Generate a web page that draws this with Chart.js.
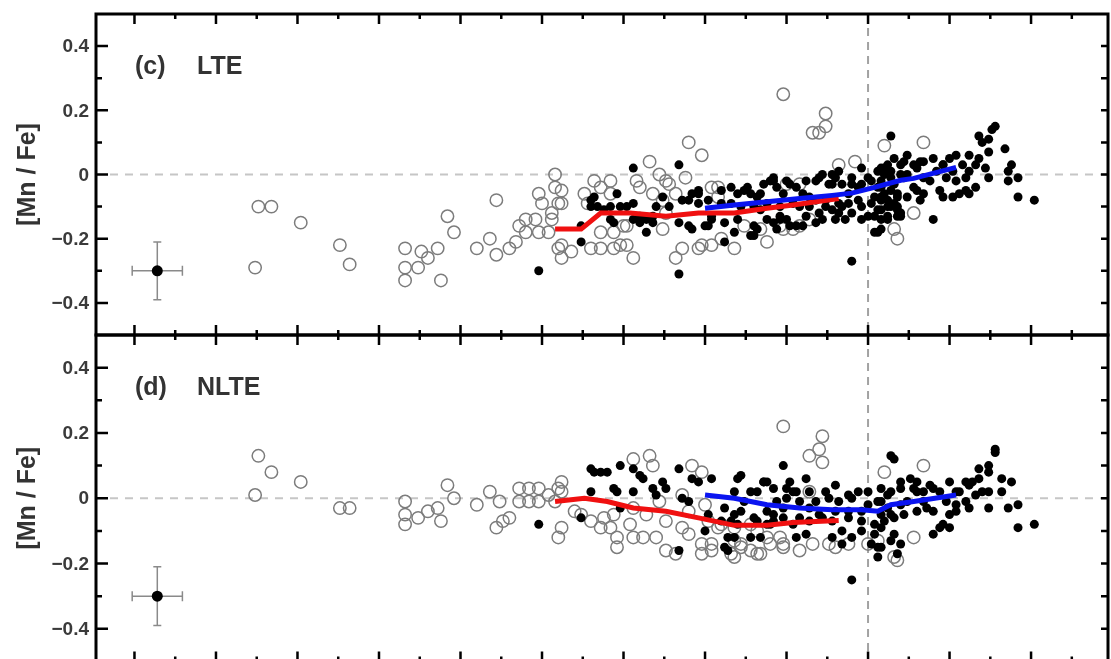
<!DOCTYPE html>
<html>
<head>
<meta charset="utf-8">
<script src="https://cdn.jsdelivr.net/npm/chart.js@4.4.1/dist/chart.umd.min.js"></script>
<style>
  html, body { margin: 0; padding: 0; background: #fff; overflow: hidden; }
  #wrap { position: relative; width: 1111px; height: 659px; overflow: hidden; }
  canvas { position: absolute; left: 0; }
  #chartLTE { top: 0; }
  #chartNLTE { top: 321px; }
</style>
</head>
<body>
<div id="wrap">
  <canvas id="chartLTE" width="1111" height="340"></canvas>
  <canvas id="chartNLTE" width="1111" height="345"></canvas>
</div>
<script>
// ---------------- data: [Fe/H], [Mn/Fe] ----------------

const xRange = [-2.368, 0.736];
const yRange = [-0.5, 0.5];
const xMajorTicks = [-2.25, -2, -1.75, -1.5, -1.25, -1, -0.75, -0.5, -0.25, 0, 0.25, 0.5];
const xMinorTicks = [-2.125, -1.875, -1.625, -1.375, -1.125, -0.875, -0.625, -0.375, -0.125, 0.125, 0.375, 0.625];
const yMajorTicks = [-0.4, -0.2, 0, 0.2, 0.4];
const yMinorTicks = [-0.3, -0.1, 0.1, 0.3];
const yTickLabels = ["\u22120.4", "\u22120.2", "0", "0.2", "0.4"];

// typical error bar
const errPoint = [-2.18, -0.30];
const errSize = [0.077, 0.09];

// (c) LTE
const lteOpen = [
  [-1.87,-0.10],[-1.83,-0.10],[-1.88,-0.29],[-1.74,-0.15],[-1.62,-0.22],[-1.59,-0.28],
  [-1.42,-0.23],[-1.42,-0.29],[-1.42,-0.33],[-1.38,-0.29],[-1.37,-0.24],[-1.35,-0.26],[-1.32,-0.23],[-1.31,-0.33],[-1.29,-0.13],[-1.27,-0.18],
  [-1.20,-0.23],[-1.16,-0.20],[-1.14,-0.25],[-1.14,-0.08],[-1.10,-0.23],[-1.08,-0.21],[-1.07,-0.16],[-1.05,-0.14],[-1.05,-0.18],[-1.02,-0.14],[-1.01,-0.18],[-1.01,-0.06],[-1.00,-0.09],
  [-0.96,0.00],[-0.96,-0.04],[-0.94,-0.05],[-0.95,-0.09],[-0.97,-0.12],[-0.94,-0.09],[-0.97,-0.14],[-0.98,-0.18],[-0.95,-0.23],[-0.94,-0.26],[-0.91,-0.24],
  [-0.87,-0.06],[-0.86,-0.09],[-0.84,-0.02],[-0.82,-0.04],[-0.82,-0.18],[-0.85,-0.23],[-0.82,-0.23],[-0.79,-0.06],[-0.78,-0.23],[-0.76,-0.22],[-0.78,-0.18],[-0.74,-0.22],[-0.72,-0.26],[-0.74,-0.16],[-0.71,-0.02],[-0.70,-0.04],
  [-0.67,0.04],[-0.64,0.00],[-0.62,-0.02],[-0.61,-0.03],[-0.63,-0.08],[-0.62,-0.12],[-0.63,-0.17],[-0.59,-0.06],[-0.56,-0.01],[-0.59,-0.26],[-0.57,-0.23],[-0.55,0.10],[-0.51,0.06],[-0.52,-0.23],[-0.48,-0.22],[-0.46,-0.04],[-0.26,0.25],
  [-0.48,-0.04],[-0.46,-0.07],[-0.45,-0.20],[-0.51,-0.22],[-0.41,-0.23],[-0.38,-0.16],[-0.31,-0.21],[-0.27,-0.16],[-0.23,-0.17],[-0.18,-0.14],[-0.25,-0.03],[-0.21,-0.03],
  [-0.13,0.19],[-0.13,0.15],[-0.17,0.13],[-0.15,0.13],[-0.09,0.03],[-0.04,0.04],[0.05,0.09],[0.17,0.10],[0.14,-0.12],[0.08,-0.17],[0.09,-0.20],[-0.33,-0.17],[-0.26,-0.17],[-0.21,-0.16],
  [-0.79,-0.02],[-0.66,-0.06],[-0.94,-0.22],[-0.75,-0.16]
];
const lteFilled = [
  [-1.01,-0.30],[-0.88,-0.21],[-0.72,0.02],[-0.58,0.03],[-0.58,-0.31],[-0.85,-0.08],[-0.84,-0.07],[-0.83,-0.10],[-0.85,-0.10],[-0.81,-0.11],
  [-0.79,-0.10],[-0.77,-0.06],[-0.76,-0.10],[-0.74,-0.10],[-0.72,-0.09],[-0.79,-0.14],[-0.78,-0.15],[-0.72,-0.14],[-0.70,-0.13],[-0.70,-0.15],
  [-0.68,-0.14],[-0.66,-0.15],[-0.68,-0.18],[-0.65,-0.10],[-0.63,-0.07],[-0.61,-0.10],[-0.58,-0.15],[-0.57,-0.08],[-0.55,-0.08],[-0.54,-0.06],
  [-0.52,-0.09],[-0.55,-0.16],[-0.54,-0.17],[-0.49,-0.16],[-0.52,-0.05],[-0.88,-0.16],[-0.66,-0.13],
  [-0.52,-0.06],[-0.49,-0.08],[-0.45,-0.05],[-0.42,-0.04],[-0.40,-0.06],[-0.37,-0.04],[-0.36,-0.06],[-0.34,-0.07],[-0.32,-0.03],[-0.29,-0.02],
  [-0.28,-0.04],[-0.26,-0.06],[-0.24,-0.03],[-0.22,-0.04],[-0.20,-0.06],[-0.18,-0.07],[-0.16,-0.02],[-0.14,0.00],[-0.12,-0.03],[-0.10,-0.01],
  [-0.08,-0.03],[-0.06,-0.06],[-0.03,-0.04],[-0.02,-0.03],[-0.02,0.02],[0.03,0.01],[0.05,0.00],[0.07,0.12],[0.03,-0.04],[0.05,-0.06],
  [0.08,-0.03],[0.09,-0.06],[-0.50,-0.16],[-0.48,-0.14],[-0.44,-0.15],[-0.41,-0.18],[-0.44,-0.21],[-0.36,-0.19],[-0.34,-0.17],[-0.31,-0.14],
  [-0.29,-0.15],[-0.27,-0.13],[-0.25,-0.14],[-0.22,-0.16],[-0.19,-0.13],[-0.16,-0.15],[-0.15,-0.12],[-0.13,-0.10],[-0.11,-0.11],[-0.10,-0.14],
  [-0.07,-0.14],[-0.05,-0.12],[-0.02,-0.10],[-0.02,-0.14],[0.01,-0.09],[0.03,-0.11],[0.06,-0.10],[0.06,-0.14],[0.09,-0.10],[0.02,-0.18],
  [-0.05,-0.27],[-0.39,-0.10],[-0.33,-0.11],[-0.16,-0.08],[-0.09,-0.09],[-0.21,-0.10],
  [0.04,0.02],[0.06,0.03],[0.08,0.05],[0.10,0.03],[0.12,0.06],[0.14,0.03],[0.15,0.02],[0.17,-0.01],[0.20,0.05],[0.23,0.03],
  [0.25,0.05],[0.27,0.06],[0.29,0.03],[0.31,0.06],[0.34,0.12],[0.35,0.10],[0.37,0.11],[0.39,0.15],[0.38,0.14],[0.37,0.07],
  [0.34,0.05],[0.36,0.02],[0.37,-0.01],[0.42,0.08],[0.44,0.03],[0.43,0.01],[0.43,-0.02],[0.46,-0.01],[0.46,-0.07],[0.51,-0.08],
  [0.31,-0.06],[0.28,-0.06],[0.26,-0.07],[0.23,-0.07],[0.20,-0.14],[0.04,-0.04],[0.07,-0.05],[0.09,-0.07],[0.06,-0.08],[0.09,-0.11],
  [0.10,-0.13],[0.06,-0.13],[0.04,-0.11],[0.15,-0.05],[0.19,-0.02],[0.24,-0.01],[0.27,-0.02],[0.30,-0.01],[0.11,-0.01],[0.04,-0.17],
  [0.14,-0.04],[0.03,-0.18],[0.10,-0.12],[0.02,-0.13],[-0.08,-0.10],[-0.27,-0.14],[-0.35,-0.19],[-0.30,-0.02],[-0.11,-0.03],[-0.05,-0.03],
  [0.05,0.02],[0.11,0.04],[0.16,0.04],[0.23,0.03],[0.33,0.03],
  [-0.48,-0.13],[-0.38,-0.05],[-0.33,-0.06],[-0.29,-0.01],[-0.25,-0.02],[-0.19,-0.02],[-0.15,-0.01],[-0.11,0.00],[-0.09,0.01],[-0.05,-0.01],
  [0.00,-0.01],[0.01,-0.02],[0.04,-0.02],[0.07,-0.01],[0.02,-0.07],[0.04,-0.08],[-0.03,-0.08],[-0.06,-0.09],[-0.13,-0.08],[-0.18,-0.10],
  [-0.23,-0.09],[-0.27,-0.10],[-0.31,-0.09],[-0.35,-0.10],[-0.42,-0.09],[-0.45,-0.09],[-0.40,-0.14],[-0.35,-0.16],[-0.28,-0.17],[-0.24,-0.16],
  [-0.20,-0.16],[-0.14,-0.14],[-0.09,-0.12],[0.00,-0.13],[0.04,-0.14],[0.09,-0.13],
  [0.07,0.01],[0.10,0.00],[0.12,0.00],[0.17,0.04],[0.21,0.01],[0.26,0.01],[0.31,0.01],[0.04,-0.07],[0.08,-0.09],[0.12,-0.07],
  [0.17,-0.06],[0.22,-0.05],[0.30,-0.05],[0.33,-0.04],[0.07,-0.10],[0.16,-0.08]
];
const lteThick = [[-0.96,-0.17],[-0.88,-0.17],[-0.82,-0.12],[-0.73,-0.12],[-0.62,-0.13],[-0.52,-0.12],[-0.41,-0.12],[-0.31,-0.105],[-0.23,-0.095],[-0.16,-0.085],[-0.09,-0.075]];
const lteThin = [[-0.50,-0.105],[-0.41,-0.095],[-0.31,-0.085],[-0.21,-0.075],[-0.11,-0.065],[-0.05,-0.058],[0.02,-0.04],[0.10,-0.018],[0.14,-0.012],[0.27,0.022]];

// (d) NLTE
const nlteOpen = [
  [-1.87,0.13],[-1.83,0.08],[-1.88,0.01],[-1.74,0.05],[-1.62,-0.03],[-1.59,-0.03],
  [-1.42,-0.01],[-1.42,-0.05],[-1.42,-0.08],[-1.38,-0.06],[-1.35,-0.04],[-1.32,-0.03],[-1.31,-0.07],[-1.29,0.04],[-1.27,0.00],
  [-1.20,-0.02],[-1.16,0.02],[-1.13,-0.01],[-1.10,-0.06],[-1.12,-0.07],[-1.14,-0.09],[-1.07,0.03],[-1.04,0.03],[-1.01,0.03],[-1.07,-0.01],
  [-1.04,-0.01],[-1.01,-0.01],[-0.98,0.01],[-0.95,0.03],[-0.94,0.05],[-0.94,0.02],[-0.96,-0.01],[-0.94,-0.09],[-0.95,-0.12],[-0.90,-0.04],
  [-0.88,-0.05],[-0.85,-0.07],[-0.82,-0.09],[-0.81,-0.06],[-0.79,-0.09],[-0.77,-0.12],[-0.77,-0.15],[-0.78,-0.05],[-0.73,-0.08],[-0.72,-0.12],
  [-0.69,-0.12],[-0.67,0.13],[-0.66,0.10],[-0.72,0.12],[-0.65,-0.12],[-0.62,-0.16],[-0.59,-0.17],[-0.55,-0.11],[-0.51,-0.17],[-0.48,-0.14],
  [-0.42,-0.17],[-0.39,-0.15],[-0.34,-0.17],[-0.26,0.22],[-0.54,0.10],[-0.51,0.08],[-0.72,-0.03],[-0.68,-0.05],[-0.62,-0.07],[-0.57,-0.09],
  [-0.64,-0.01],[-0.57,0.01],[-0.55,-0.04],[-0.45,-0.08],[-0.41,-0.09],[-0.36,-0.08],[-0.41,-0.13],[-0.31,-0.12],[-0.26,-0.14],
  [-0.14,0.19],[-0.15,0.15],[-0.18,0.13],[-0.14,0.11],[-0.50,-0.02],[-0.49,-0.07],[-0.51,-0.14],[-0.48,-0.16],[-0.41,-0.18],[-0.36,-0.16],
  [-0.33,-0.17],[-0.39,-0.14],[-0.30,-0.14],[-0.26,-0.15],[-0.21,-0.16],[-0.17,-0.14],[-0.10,-0.15],[-0.18,0.02],[-0.27,-0.12],[0.05,0.08],
  [0.17,0.10],[0.08,-0.18],[0.09,-0.19],[-0.46,-0.09],[-0.34,-0.10],[-0.12,-0.14],[-0.06,-0.14],[0.00,-0.14],[0.03,-0.13],[0.14,-0.12]
];
const nlteFilled = [
  [-1.01,-0.08],[-0.88,-0.06],[-0.85,0.09],[-0.84,0.08],[-0.80,0.08],[-0.76,0.10],[-0.72,0.09],[-0.69,0.06],[-0.78,0.03],[-0.77,0.02],
  [-0.72,0.02],[-0.66,0.03],[-0.63,0.05],[-0.62,0.03],[-0.65,0.01],[-0.58,0.09],[-0.54,0.06],[-0.52,0.05],[-0.57,0.00],[-0.55,-0.01],
  [-0.85,0.02],[-0.76,-0.03],[-0.58,-0.16],[-0.49,-0.05],[-0.82,0.08],[-0.70,0.07],[-0.48,0.06],[-0.40,0.06],[-0.36,0.02],[-0.32,0.05],
  [-0.26,0.10],[-0.24,0.05],[-0.50,-0.10],[-0.44,-0.03],[-0.41,-0.05],[-0.43,-0.16],[-0.36,-0.12],[-0.34,-0.07],[-0.30,-0.08],[-0.29,-0.05],
  [-0.22,-0.12],[-0.23,0.02],[-0.38,-0.01],[-0.39,0.07],[-0.32,0.05],[-0.29,0.03],[-0.19,0.06],[-0.10,0.04],[-0.39,-0.04],[-0.31,-0.04],
  [-0.25,0.00],[-0.21,-0.01],[-0.16,-0.01],[-0.12,0.00],[-0.06,0.01],[-0.03,0.02],[0.00,0.02],[0.04,0.03],[0.07,0.02],[0.07,0.13],
  [-0.06,-0.04],[-0.02,-0.04],[-0.11,-0.07],[-0.08,-0.10],[-0.05,-0.12],[0.02,-0.08],[0.05,-0.07],[-0.42,-0.07],[-0.43,-0.12],[-0.44,-0.15],
  [-0.23,-0.08],[-0.19,-0.11],[0.01,-0.14],[0.03,-0.15],[0.03,-0.18],[-0.05,-0.25],[0.06,-0.03],[-0.18,-0.07],[-0.26,-0.06],[-0.31,-0.08],
  [-0.15,-0.05],[0.08,0.12],[0.10,0.05],[0.14,0.03],[0.15,0.05],[0.17,0.02],[0.20,0.03],[0.25,0.05],[0.31,0.04],[0.32,0.05],
  [0.34,0.09],[0.37,0.10],[0.39,0.15],[0.39,0.14],[0.35,0.02],[0.37,0.02],[0.41,0.06],[0.44,0.05],[0.41,0.02],[0.37,-0.03],
  [0.43,-0.03],[0.46,-0.02],[0.46,-0.09],[0.51,-0.08],[0.30,-0.01],[0.27,-0.02],[0.25,-0.05],[0.23,-0.08],[0.22,-0.09],[0.20,-0.11],
  [0.10,-0.02],[0.12,-0.01],[0.17,-0.01],[0.08,-0.06],[0.08,-0.11],[0.10,-0.14],[0.09,-0.17],[0.04,-0.15],[0.18,-0.03],[0.24,-0.01],
  [0.28,0.02],[0.33,0.01],[0.31,-0.03],[0.04,-0.05],
  [-0.41,0.02],[-0.34,0.02],[-0.28,-0.01],[-0.18,0.02],[-0.13,0.02],[-0.09,-0.01],[-0.05,0.00],[0.00,-0.02],[0.03,-0.01],[0.06,0.01],
  [-0.06,-0.06],[-0.02,-0.07],[-0.10,-0.04],[-0.14,-0.06],[-0.26,-0.03],[-0.21,-0.06],[-0.29,-0.07],[-0.35,-0.06],[-0.40,-0.08],[-0.45,-0.07],
  [-0.41,-0.12],[-0.33,-0.12],[-0.31,0.05],[-0.25,0.03],[-0.22,0.02],[-0.18,-0.03],[0.02,-0.11],[-0.02,-0.10],[-0.08,-0.14],[-0.11,-0.12],
  [0.10,0.03],[0.13,0.06],[0.15,0.02],[0.19,0.04],[0.22,0.02],[0.27,0.02],[0.30,0.05],[0.04,-0.01],[0.07,-0.05],[0.11,-0.05],
  [0.15,-0.04],[0.20,-0.04],[0.25,-0.09],[0.27,-0.04],[0.04,-0.09],[0.07,-0.13],[0.34,0.06],[0.37,0.08]
];
const nlteThick = [[-0.96,-0.01],[-0.87,0.00],[-0.80,-0.01],[-0.72,-0.03],[-0.62,-0.04],[-0.52,-0.06],[-0.41,-0.083],[-0.31,-0.083],[-0.23,-0.074],[-0.09,-0.068]];
const nlteThin = [[-0.50,0.01],[-0.41,0.00],[-0.31,-0.02],[-0.21,-0.03],[-0.11,-0.035],[-0.02,-0.035],[0.03,-0.04],[0.07,-0.02],[0.14,-0.01],[0.27,0.01]];

// ---------------- plugin: nollinjer, felstapel, ram, ticks inåt, etiketter ----------------

const xy = (arr) => arr.map((p) => ({ x: p[0], y: p[1] }));
const fontFamily = "'Liberation Sans', Arial, sans-serif";

const panelDecor = {
  id: "panelDecor",
  beforeDatasetsDraw(chart, args, opts) {
    const { ctx, chartArea: a, scales } = chart;
    const x = scales.x, y = scales.y;
    ctx.save();
    ctx.beginPath();
    ctx.rect(a.left, a.top, a.right - a.left, a.bottom - a.top);
    ctx.clip();
    // nollinjer
    const y0 = y.getPixelForValue(0);
    ctx.setLineDash([8, 7]);
    ctx.lineWidth = 2;
    ctx.strokeStyle = "#c6c6c6";
    ctx.beginPath();
    ctx.moveTo(a.left + 14, y0);
    ctx.lineTo(a.right, y0);
    ctx.stroke();
    const x0 = x.getPixelForValue(0);
    ctx.setLineDash([8, 6]);
    ctx.strokeStyle = "#a2a2a2";
    ctx.beginPath();
    ctx.moveTo(x0, a.top);
    ctx.lineTo(x0, a.bottom);
    ctx.stroke();
    // felstapel
    ctx.setLineDash([]);
    ctx.strokeStyle = "#8a8a8a";
    ctx.lineWidth = 1.5;
    const ex = x.getPixelForValue(errPoint[0]);
    const ey = y.getPixelForValue(errPoint[1]);
    const xl = x.getPixelForValue(errPoint[0] - errSize[0]);
    const xr = x.getPixelForValue(errPoint[0] + errSize[0]);
    const yt = y.getPixelForValue(errPoint[1] + errSize[1]);
    const yb = y.getPixelForValue(errPoint[1] - errSize[1]);
    ctx.beginPath();
    ctx.moveTo(xl, ey); ctx.lineTo(xr, ey);
    ctx.moveTo(ex, yt); ctx.lineTo(ex, yb);
    ctx.moveTo(xl, ey - 5); ctx.lineTo(xl, ey + 5);
    ctx.moveTo(xr, ey - 5); ctx.lineTo(xr, ey + 5);
    ctx.moveTo(ex - 4, yt); ctx.lineTo(ex + 4, yt);
    ctx.moveTo(ex - 4, yb); ctx.lineTo(ex + 4, yb);
    ctx.stroke();
    ctx.restore();
  },
  afterDatasetsDraw(chart, args, opts) {
    const { ctx, chartArea: a, scales } = chart;
    const x = scales.x, y = scales.y;
    ctx.save();
    ctx.strokeStyle = "#000";
    ctx.lineWidth = 3;
    ctx.strokeRect(a.left, a.top, a.right - a.left, a.bottom - a.top);
    ctx.lineWidth = 2.5;
    ctx.beginPath();
    const xTick = (v, len) => {
      const px = x.getPixelForValue(v);
      if (px <= a.left || px >= a.right) return;
      ctx.moveTo(px, a.top); ctx.lineTo(px, a.top + len);
      ctx.moveTo(px, a.bottom); ctx.lineTo(px, a.bottom - len);
    };
    xMajorTicks.forEach((v) => xTick(v, 10));
    xMinorTicks.forEach((v) => xTick(v, 5));
    yMajorTicks.forEach((v) => {
      const py = y.getPixelForValue(v);
      ctx.moveTo(a.left, py); ctx.lineTo(a.left + 12, py);
      ctx.moveTo(a.right, py); ctx.lineTo(a.right - 7, py);
    });
    yMinorTicks.forEach((v) => {
      const py = y.getPixelForValue(v);
      ctx.moveTo(a.left, py); ctx.lineTo(a.left + 6, py);
      ctx.moveTo(a.right, py); ctx.lineTo(a.right - 7, py);
    });
    ctx.stroke();
    // y-etiketter
    ctx.fillStyle = "#3a3a3a";
    ctx.font = "bold 19px " + fontFamily;
    ctx.textAlign = "right";
    ctx.textBaseline = "middle";
    yMajorTicks.forEach((v, i) => {
      ctx.fillText(yTickLabels[i], a.left - 7, y.getPixelForValue(v) + 1);
    });
    // panelrubrik
    ctx.fillStyle = "#333";
    ctx.font = "bold 25px " + fontFamily;
    ctx.textAlign = "left";
    ctx.textBaseline = "alphabetic";
    ctx.fillText(opts.tag, a.left + 39, a.top + 60);
    ctx.fillText(opts.name, a.left + 101, a.top + 60);
    ctx.restore();
  },
};

function makeConfig(openPts, filledPts, thickPts, thinPts, tag, name, padTop, padBottom) {
  return {
    type: "scatter",
    data: {
      datasets: [
        { data: xy(thinPts), showLine: true, borderColor: "#0a14f0", borderWidth: 5, pointRadius: 0, tension: 0 },
        { data: xy(thickPts), showLine: true, borderColor: "#f01010", borderWidth: 5, pointRadius: 0, tension: 0 },
        { data: xy(filledPts), pointRadius: 4.5, backgroundColor: "#000", borderWidth: 0 },
        { data: xy(openPts), pointRadius: 6.2, backgroundColor: "rgba(0,0,0,0)", borderColor: "#7c7c7c", borderWidth: 1.5 },
        { data: xy([errPoint]), pointRadius: 5.5, backgroundColor: "#000", borderWidth: 0 },
      ],
    },
    options: {
      responsive: false,
      animation: false,
      events: [],
      layout: { autoPadding: false, padding: { left: 0, right: 3, top: padTop, bottom: padBottom } },
      plugins: {
        legend: { display: false },
        tooltip: { enabled: false },
        panelDecor: { tag, name },
      },
      scales: {
        x: { type: "linear", display: false, min: xRange[0], max: xRange[1] },
        y: {
          type: "linear",
          min: yRange[0],
          max: yRange[1],
          grid: { display: false, drawTicks: false },
          border: { display: false },
          ticks: { display: false },
          afterFit: (axis) => {
            axis.width = 96;
          },
          title: {
            display: true,
            text: "[Mn / Fe]",
            color: "#333",
            font: { family: fontFamily, size: 25, weight: "bold" },
            padding: { top: 13, bottom: 0 },
          },
        },
      },
    },
    plugins: [panelDecor],
  };
}

new Chart(document.getElementById("chartLTE"), makeConfig(lteOpen, lteFilled, lteThick, lteThin, "(c)", "LTE", 14, 5));
new Chart(document.getElementById("chartNLTE"), makeConfig(nlteOpen, nlteFilled, nlteThick, nlteThin, "(d)", "NLTE", 14, 4.5));
</script>
</body>
</html>
